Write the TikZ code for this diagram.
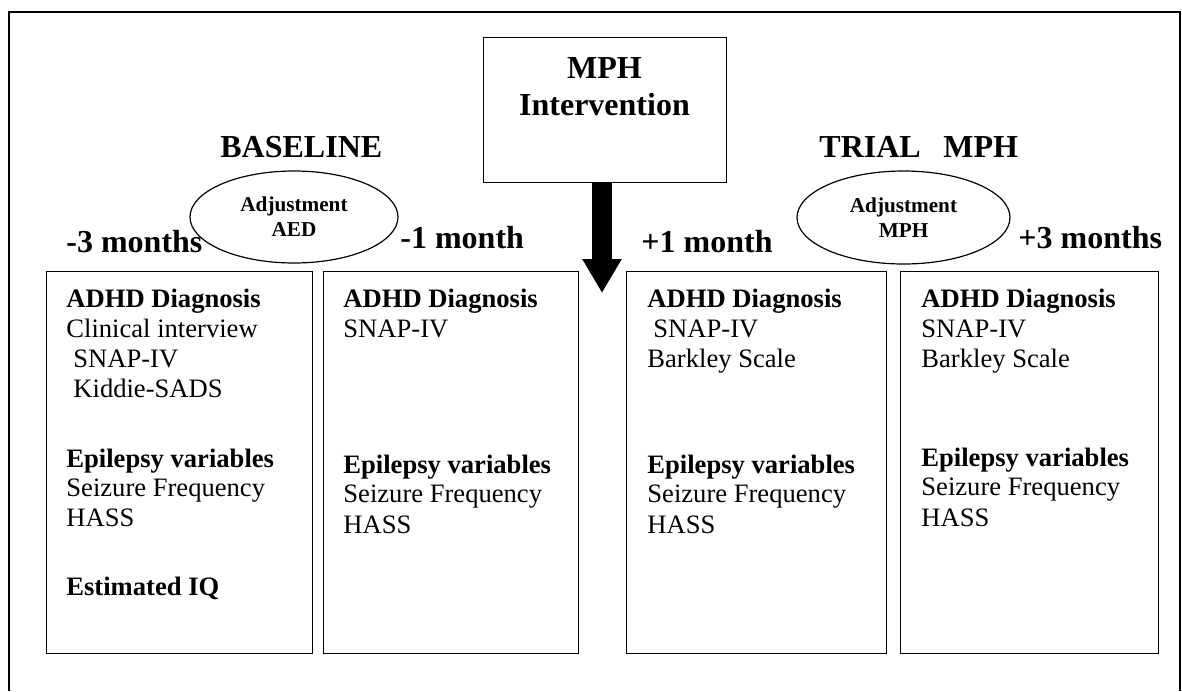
\documentclass[tikz,border=0pt]{standalone}
\usepackage{fontspec}
\setmainfont{Liberation Serif}
\usetikzlibrary{shapes.geometric,arrows.meta}
\begin{document}
\begin{tikzpicture}[x=0.5pt,y=-0.5pt,
  frame/.style={line width=0.8pt},
  box/.style={draw, line width=0.7pt, rectangle, anchor=north west, inner sep=0pt},
  oval/.style={draw, ellipse, line width=0.6pt, inner sep=0pt, align=center,
    font=\fontsize{10.6}{12.5}\selectfont\bfseries},
  head/.style={anchor=base west, inner sep=0pt, font=\fontsize{16}{18.5}\selectfont\bfseries},
  txt/.style={anchor=base west, inner sep=0pt, font=\fontsize{13.3}{15}\selectfont},
  btxt/.style={anchor=base west, inner sep=0pt, font=\fontsize{13.3}{15}\selectfont\bfseries},
  bigarrow/.style={line width=10pt, -{Triangle[width=18.5pt,length=17pt]}}
]
\useasboundingbox (0,0) rectangle (1182,691);
% outer frame (open at the bottom)
\coordinate (fbl) at (9,691);
\coordinate (ftl) at (9,12);
\coordinate (ftr) at (1180,12);
\coordinate (fbr) at (1180,691);
\draw[frame] (fbl) -- (ftl) -- (ftr) -- (fbr);

% MPH intervention box and arrow
\node[box, minimum width=121.5pt, minimum height=72.5pt] (mph) at (483,37) {};
\node[head, anchor=base] (mphA) at (604.5,78) {MPH};
\node[head, anchor=base] (mphB) at (604.5,115) {Intervention};
\coordinate (tip) at (602,293);
\draw[bigarrow] (mph.south -| tip) -- (tip);

% headings
\node[head] (base) at (220,157) {BASELINE};
\node[head] (trial) at (819,157) {TRIAL\hspace{11.3pt}MPH};
\node[head] (m3) at (66,252) {-3 months};
\node[head] (m1) at (400,248) {-1 month};
\node[head] (p1) at (641,252) {+1 month};
\node[head] (p3) at (1018,248) {+3 months};

% adjustment ellipses
\node[oval, minimum width=104pt, minimum height=46pt] (aed) at (294,217) {Adjustment\\AED};
\node[oval, minimum width=106.5pt, minimum height=46.5pt] (adjm) at (903.5,217.5) {Adjustment\\MPH};

% boxes
\node[box, minimum width=133pt, minimum height=191pt] (b1) at (46,271) {};
\node[box, minimum width=127.5pt, minimum height=191pt] (b2) at (323,271) {};
\node[box, minimum width=130pt, minimum height=191pt] (b3) at (626,271) {};
\node[box, minimum width=129pt, minimum height=191pt] (b4) at (900,271) {};

% box 1
\node[btxt] (b1a) at (66,307) {ADHD Diagnosis};
\node[txt] (b1b) at (66,337) {Clinical interview};
\node[txt] (b1c) at (73,367) {SNAP-IV};
\node[txt] (b1d) at (73,397) {Kiddie-SADS};
\node[btxt] (b1e) at (66,467) {Epilepsy variables};
\node[txt] (b1f) at (66,496) {Seizure Frequency};
\node[txt] (b1g) at (66,526) {HASS};
\node[btxt] (b1h) at (66,595) {Estimated IQ};

% box 2
\node[btxt] (b2a) at (343,307) {ADHD Diagnosis};
\node[txt] (b2b) at (343,337) {SNAP-IV};
\node[btxt] (b2e) at (343,473) {Epilepsy variables};
\node[txt] (b2f) at (343,502) {Seizure Frequency};
\node[txt] (b2g) at (343,533) {HASS};

% box 3
\node[btxt] (b3a) at (647,307) {ADHD Diagnosis};
\node[txt] (b3b) at (653,337) {SNAP-IV};
\node[txt] (b3c) at (647,367) {Barkley Scale};
\node[btxt] (b3e) at (647,473) {Epilepsy variables};
\node[txt] (b3f) at (647,502) {Seizure Frequency};
\node[txt] (b3g) at (647,533) {HASS};

% box 4
\node[btxt] (b4a) at (921,307) {ADHD Diagnosis};
\node[txt] (b4b) at (921,337) {SNAP-IV};
\node[txt] (b4c) at (921,367) {Barkley Scale};
\node[btxt] (b4e) at (921,466) {Epilepsy variables};
\node[txt] (b4f) at (921,495) {Seizure Frequency};
\node[txt] (b4g) at (921,526) {HASS};
\end{tikzpicture}
\end{document}
